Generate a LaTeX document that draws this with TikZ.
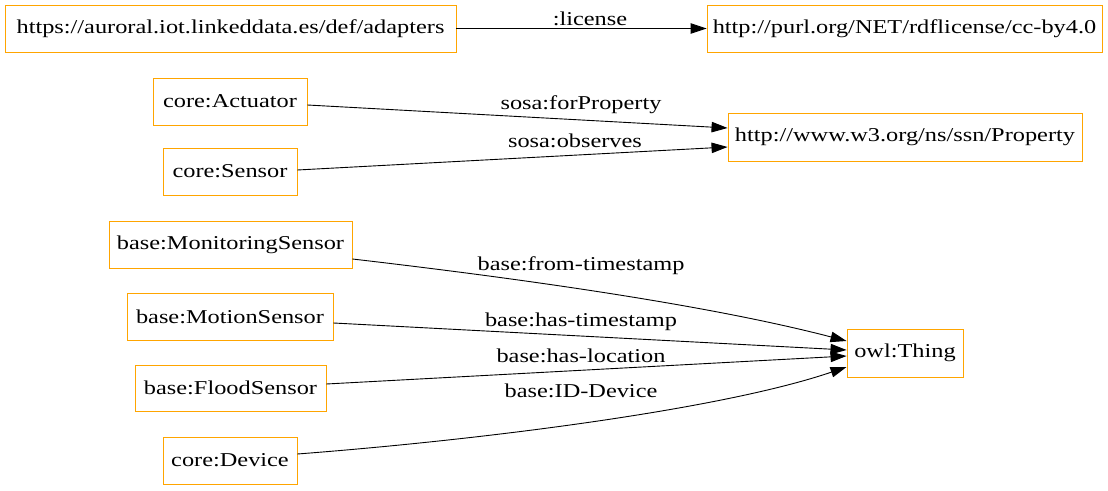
\documentclass[tikz,border=0pt]{standalone}
\usepackage{fontspec}
\setmainfont[FakeStretch=1.24]{Liberation Serif}
\usetikzlibrary{arrows.meta,calc}
\definecolor{boxorange}{HTML}{FFA500}
\begin{document}
\begin{tikzpicture}[x=1bp,y=-1bp,
  box/.style={draw=boxorange,line width=0.9bp,inner sep=0pt,font=\fontsize{19.7}{22}\selectfont},
  lbl/.style={inner sep=0pt,font=\fontsize{19.7}{22}\selectfont},
  edge/.style={draw=black,line width=0.9bp,-{Triangle[length=16bp,width=10.5bp]}}]
\useasboundingbox (0,0) rectangle (1108,491);
\fill[white] (0,0) rectangle (1108,491);
\node[box,minimum width=451bp,minimum height=47bp] (ad) at (230.5,28.5) {https://auroral.iot.linkeddata.es/def/adapters};
\node[box,minimum width=395bp,minimum height=47bp] (lic) at (904.5,28.5) {http://purl.org/NET/rdflicense/cc-by4.0};
\node[box,minimum width=154bp,minimum height=47bp] (act) at (230,101.5) {core:Actuator};
\node[box,minimum width=134bp,minimum height=47bp] (sen) at (230,171.5) {core:Sensor};
\node[box,minimum width=354bp,minimum height=48bp] (prop) at (905,137) {http://www.w3.org/ns/ssn/Property};
\node[box,minimum width=243bp,minimum height=47bp] (mon) at (230.5,244.5) {base:MonitoringSensor};
\node[box,minimum width=206bp,minimum height=47bp] (mot) at (230,316.5) {base:MotionSensor};
\node[box,minimum width=191bp,minimum height=46bp] (flo) at (230.5,388) {base:FloodSensor};
\node[box,minimum width=134bp,minimum height=47bp] (dev) at (230,460.5) {core:Device};
\node[box,minimum width=116bp,minimum height=48bp] (thing) at (905,353) {owl:Thing};

\draw[edge] (ad.east) -- (lic.west);
\node[lbl] (l1) at (590,19) {:license};
\draw[edge] ($(act.east)+(0,3.5)$) -- ($(prop.west)+(0,-9)$);
\node[lbl] (l2) at (581,105) {sosa:forProperty};
\draw[edge] ($(sen.east)+(0,-1.5)$) -- ($(prop.west)+(0,10)$);
\node[lbl] (l3) at (575,141) {sosa:observes};
\draw[edge] ($(mon.east)+(0,14.5)$) .. controls (550,282) and (720,308) .. ($(thing.west)+(0,-12)$);
\node[lbl] (l4) at (581,266) {base:from-timestamp};
\draw[edge] ($(mot.east)+(0,6.5)$) -- ($(thing.west)+(0,-3)$);
\node[lbl] (l5) at (581,322) {base:has-timestamp};
\draw[edge] ($(flo.east)+(0,-4)$) -- ($(thing.west)+(0,3)$);
\node[lbl] (l6) at (581,356) {base:has-location};
\draw[edge] ($(dev.east)+(0,-6.5)$) .. controls (480,440) and (720,410) .. ($(thing.west)+(0,14)$);
\node[lbl] (l7) at (581,391) {base:ID-Device};
\end{tikzpicture}
\end{document}
